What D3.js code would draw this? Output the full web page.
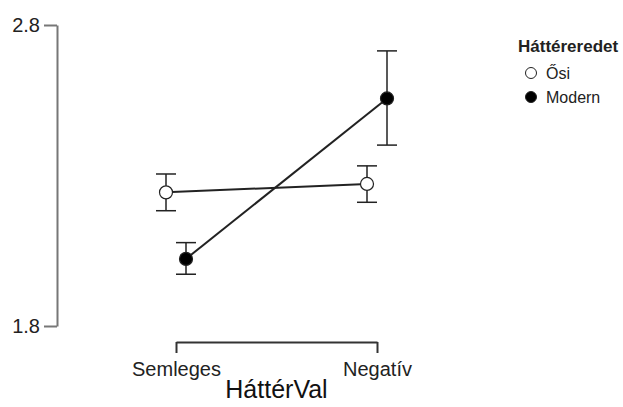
<!DOCTYPE html>
<html>
<head>
<meta charset="utf-8">
<script src="https://cdn.jsdelivr.net/npm/d3@7"></script>
<style>
  body { margin: 0; background: #fff; }
  svg { display: block; font-family: "Liberation Sans", Arial, sans-serif; }
</style>
</head>
<body>
<svg id="chart"></svg>
<script>
// values
const categories = ["Semleges", "Negatív"];
const groups = ["Ősi", "Modern"];
const osiMean = [2.244, 2.272];
const osiLow = [2.183, 2.211];
const osiHigh = [2.305, 2.332];
const modernMean = [2.023, 2.556];
const modernLow = [1.972, 2.401];
const modernHigh = [2.077, 2.714];
const yTicks = [1.8, 2.8];

const series = [
    { name: groups[0], mean: osiMean, low: osiLow, high: osiHigh, fill: "#fff", dodge: -10 },
    { name: groups[1], mean: modernMean, low: modernLow, high: modernHigh, fill: "#000", dodge: 10 }
];

const width = 623, height = 407;

const svg = d3.select("#chart")
    .attr("width", width)
    .attr("height", height);

// Scales
const x = d3.scalePoint()
    .domain(categories)
    .range([176, 377]);

const y = d3.scaleLinear()
    .domain([1.8, 2.8])
    .range([326, 25]);

// Y axis
const yAxis = svg.append("g")
    .attr("transform", "translate(57,0)")
    .call(d3.axisLeft(y).tickValues(yTicks).tickFormat(d3.format(".1f")).tickSize(13).tickSizeOuter(0).tickPadding(4));
yAxis.selectAll("path, line").attr("stroke", "#777").attr("stroke-width", 2);
yAxis.selectAll("text").attr("font-size", 20).attr("fill", "#222").attr("font-family", "Liberation Sans, Arial, sans-serif");

// X axis (bracket)
const xAxis = svg.append("g")
    .attr("transform", "translate(0,342)")
    .call(d3.axisBottom(x).tickSize(11).tickSizeOuter(0).tickPadding(9));
xAxis.selectAll("path, line").attr("stroke", "#333").attr("stroke-width", 2);
xAxis.selectAll("text").attr("font-size", 20).attr("fill", "#222").attr("font-family", "Liberation Sans, Arial, sans-serif");

svg.append("text")
    .attr("x", (x(categories[0]) + x(categories[1])) / 2)
    .attr("y", 398)
    .attr("text-anchor", "middle")
    .attr("font-size", 25)
    .attr("fill", "#111")
    .text("HáttérVal");

// Lines, error bars, points
const line = d3.line()
    .x((d, i) => x(categories[i]))
    .y(d => y(d));

series.forEach(s => {
    const g = svg.append("g").attr("transform", `translate(${s.dodge},0)`);

    g.append("path")
        .datum(s.mean)
        .attr("fill", "none")
        .attr("stroke", "#222")
        .attr("stroke-width", 2)
        .attr("d", line);

    categories.forEach((c, i) => {
        const cx = x(c);
        g.append("line")
            .attr("x1", cx).attr("x2", cx)
            .attr("y1", y(s.low[i])).attr("y2", y(s.high[i]))
            .attr("stroke", "#222").attr("stroke-width", 1.5);
        [s.low[i], s.high[i]].forEach(v => {
            g.append("line")
                .attr("x1", cx - 10).attr("x2", cx + 10)
                .attr("y1", y(v)).attr("y2", y(v))
                .attr("stroke", "#222").attr("stroke-width", 1.5);
        });
        g.append("circle")
            .attr("cx", cx)
            .attr("cy", y(s.mean[i]))
            .attr("r", 6.5)
            .attr("fill", s.fill)
            .attr("stroke", "#222")
            .attr("stroke-width", 1.2);
    });
});

// Legend
const legend = svg.append("g");
legend.append("text")
    .attr("x", 518)
    .attr("y", 52)
    .attr("font-size", 17)
    .attr("font-weight", "bold")
    .attr("fill", "#222")
    .text("Háttéreredet");

series.forEach((s, i) => {
    const ly = 73 + i * 24;
    legend.append("circle")
        .attr("cx", 531)
        .attr("cy", ly)
        .attr("r", 5.5)
        .attr("fill", s.fill)
        .attr("stroke", "#222")
        .attr("stroke-width", 1);
    legend.append("text")
        .attr("x", 546)
        .attr("y", ly + 6)
        .attr("font-size", 16)
        .attr("fill", "#222")
        .text(s.name);
});
</script>
</body>
</html>
